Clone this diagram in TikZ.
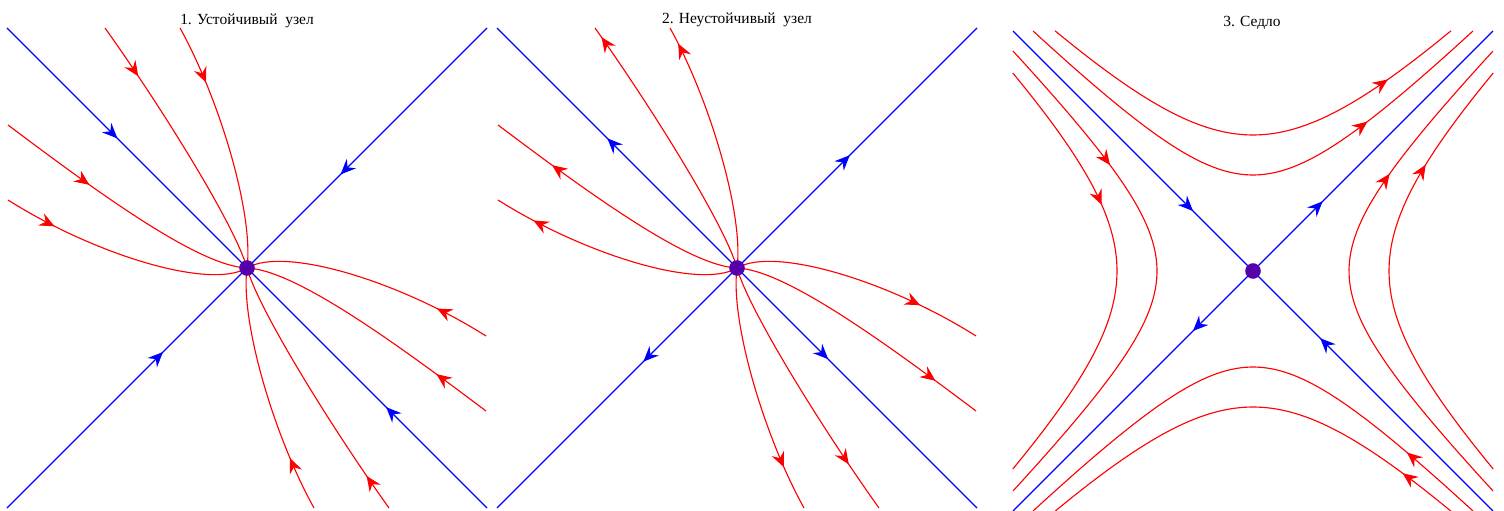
\documentclass[tikz,border=0pt]{standalone}
\usepackage{fontspec}
\setmainfont{Liberation Serif}
\usepackage{tikz}
\usetikzlibrary{
    arrows.meta,
    decorations.markings
}

\definecolor{fixdot}{RGB}{85,0,170}

\begin{document}
\begin{tikzpicture}[
  x=0.025cm,
  y=-0.025cm,
  >={Stealth[length=3.8mm, width=3.3mm, inset=1.3mm]},
  title/.style={font=\fontsize{11}{13}\selectfont, anchor=base},
  fixpoint/.style={circle, fill=fixdot, inner sep=0pt, minimum size=3.9mm},
  orbit/.style={red, line width=0.8pt},
  axis/.style={blue, line width=0.8pt},
  fwd/.style={postaction={decorate},
    decoration={markings, mark=at position #1 with {\arrow{>}}}},
  bwd/.style={postaction={decorate},
    decoration={markings, mark=at position #1 with {\arrowreversed{>}}}}
]
  \useasboundingbox (0,0) rectangle (1504,511);

  % Centres of the three portraits.
  \coordinate (o1) at (247,268);
  \coordinate (o2) at (737,268);
  \coordinate (o3) at (1253,271);

  \node[title] (t1) at (247,25) {1. Устойчивый\ \ узел};
  \node[title] (t2) at (737,24) {2. Неустойчивый\ \ узел};
  \node[title] (t3) at (1252,27) {3. Седло};

  % 1. Stable node: everything runs into the centre.
  \begin{scope}[shift={(o1)}]
    \draw[axis, fwd=0.46] (-240,-240) -- (0,0);
    \draw[axis, fwd=0.61] (240,-240) -- (0,0);
    \draw[axis, fwd=0.65] (-240,240) -- (0,0);
    \draw[axis, fwd=0.42] (240,240) -- (0,0);
    \draw[orbit, fwd=0.21] (-142,-240) .. controls (-87,-163) and (-12,-43) .. (0,0);
    \draw[orbit, fwd=0.24] (-67,-240) .. controls (-27,-168) and (7,-53) .. (0,0);
    \draw[orbit, fwd=0.36] (-239,-143) .. controls (-142,-70) and (-47,-2) .. (0,0);
    \draw[orbit, fwd=0.21] (-239,-68) .. controls (-152,-13) and (-37,22) .. (0,0);
  \end{scope}
  \begin{scope}[shift={(o1)}, rotate=180]
    \draw[orbit, fwd=0.14] (-142,-240) .. controls (-87,-163) and (-12,-43) .. (0,0);
    \draw[orbit, fwd=0.22] (-67,-240) .. controls (-27,-168) and (7,-53) .. (0,0);
    \draw[orbit, fwd=0.22] (-239,-143) .. controls (-142,-70) and (-47,-2) .. (0,0);
    \draw[orbit, fwd=0.22] (-239,-68) .. controls (-152,-13) and (-37,22) .. (0,0);
  \end{scope}

  % 2. Unstable node: same orbits, run outwards.
  \begin{scope}[shift={(o2)}]
    \draw[axis, bwd=0.46] (-240,-240) -- (0,0);
    \draw[axis, bwd=0.53] (240,-240) -- (0,0);
    \draw[axis, bwd=0.61] (-240,240) -- (0,0);
    \draw[axis, bwd=0.62] (240,240) -- (0,0);
    \draw[orbit, bwd=0.04] (-142,-240) .. controls (-87,-163) and (-12,-43) .. (0,0);
    \draw[orbit, bwd=0.07] (-67,-240) .. controls (-27,-168) and (7,-53) .. (0,0);
    \draw[orbit, bwd=0.24] (-239,-143) .. controls (-142,-70) and (-47,-2) .. (0,0);
    \draw[orbit, bwd=0.16] (-239,-68) .. controls (-152,-13) and (-37,22) .. (0,0);
  \end{scope}
  \begin{scope}[shift={(o2)}, rotate=180]
    \draw[orbit, bwd=0.19] (-142,-240) .. controls (-87,-163) and (-12,-43) .. (0,0);
    \draw[orbit, bwd=0.18] (-67,-240) .. controls (-27,-168) and (7,-53) .. (0,0);
    \draw[orbit, bwd=0.18] (-239,-143) .. controls (-142,-70) and (-47,-2) .. (0,0);
    \draw[orbit, bwd=0.25] (-239,-68) .. controls (-152,-13) and (-37,22) .. (0,0);
  \end{scope}

  % 3. Saddle: hyperbolas round the separatrices.
  \begin{scope}[shift={(o3)}]
    \draw[axis, fwd=0.75] (-240,-240) -- (0,0);
    \draw[axis, fwd=0.72] (240,240) -- (0,0);
    \draw[axis, fwd=0.29] (0,0) -- (240,-240);
    \draw[axis, fwd=0.25] (0,0) -- (-240,240);
    \draw[orbit, fwd=0.74] plot[domain=-1.567:1.567, samples=60] ({96*sinh(\x)}, {-96*cosh(\x)});
    \draw[orbit, fwd=0.825] plot[domain=-1.17:1.17, samples=60] ({136*sinh(\x)}, {-136*cosh(\x)});
    \draw[orbit, fwd=0.28] plot[domain=-1.567:1.567, samples=60] ({-96*cosh(\x)}, {96*sinh(\x)});
    \draw[orbit, fwd=0.35] plot[domain=-1.17:1.17, samples=60] ({-136*cosh(\x)}, {136*sinh(\x)});
    \draw[orbit, fwd=0.70] plot[domain=-1.567:1.567, samples=60] ({96*cosh(\x)}, {-96*sinh(\x)});
    \draw[orbit, fwd=0.75] plot[domain=-1.17:1.17, samples=60] ({136*cosh(\x)}, {-136*sinh(\x)});
    \draw[orbit, fwd=0.165] plot[domain=-1.567:1.567, samples=60] ({-96*sinh(\x)}, {96*cosh(\x)});
    \draw[orbit, fwd=0.135] plot[domain=-1.17:1.17, samples=60] ({-136*sinh(\x)}, {136*cosh(\x)});
  \end{scope}

  % Fixed points on top.
  \node[fixpoint] (c1) at (o1) {};
  \node[fixpoint] (c2) at (o2) {};
  \node[fixpoint] (c3) at (o3) {};
\end{tikzpicture}
\end{document}
